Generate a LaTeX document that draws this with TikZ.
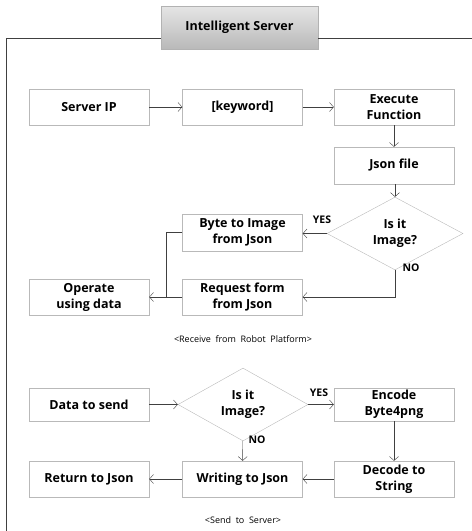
\documentclass[tikz,border=0pt]{standalone}
\usepackage{fontspec}
\setmainfont{Open Sans}
\usepackage{tikz}
\usetikzlibrary{shapes.geometric}
\usetikzlibrary{arrows.meta}
\usepackage{xcolor}

\begin{document}
\begin{tikzpicture}[x=1pt,y=-1pt,
box/.style={draw=gray!55,rectangle,minimum width=120pt,minimum height=36pt,
  inner sep=0pt,align=center,font=\bfseries\fontsize{12.5}{16}\selectfont},
ask/.style={draw=gray!55,diamond,inner sep=0pt,minimum height=51pt,
  align=center,font=\bfseries\fontsize{12.5}{16}\selectfont},
tag/.style={font=\bfseries\fontsize{10.5}{12}\selectfont},
note/.style={font=\fontsize{9}{11}\selectfont},
arr/.style={draw=black!75,-{Straight Barb[length=4pt,width=9pt]}}]
\useasboundingbox (0,0) rectangle (472,531);

% frame and title
\node (ttl) [draw=gray!60,top color=gray!20,bottom color=gray!55,minimum width=157pt,
  minimum height=43pt,inner sep=0pt,font=\bfseries\fontsize{12.5}{15}\selectfont]
  at (239.5,27.5) {Intelligent Server};
\coordinate (fr) at (6,38);
\draw[black!75] (ttl.west |- fr) -- (fr) -- (6,531);
\draw[black!75] (ttl.east |- fr) -- (472,38);

% receive part
\node (ip) [box] at (89,107) {Server IP};
\node (kw) [box] at (242.5,107) {[keyword]};
\node (exec) [box] at (394,107) {Execute\\Function};
\node (json) [box,minimum height=37pt] at (394,165.5) {Json file};
\node (img1) [ask,minimum width=136pt] at (395,233.5) {Is it\\Image?};
\node (byte) [box,minimum height=37pt] at (242.5,232.5) {Byte to Image\\from Json};
\node (req) [box] at (242.5,297) {Request form\\from Json};
\node (oper) [box] at (89,297) {Operate\\using data};
\node (note1) [note] at (243,339) {<Receive\ \ from\ \ Robot\ \ Platform>};

\draw[arr] (ip) -- (kw);
\draw[arr] (kw) -- (exec);
\draw[arr] (exec) -- (json);
\draw[arr] (json.south -| img1) -- (img1);
\draw[arr] (img1.west) -- (byte.east |- img1.west);
\node (yes1) [tag] at (322,220) {YES};
\draw[arr] (img1.south) -- (img1.south |- req) -- (req.east);
\node (no1) [tag] at (411,268) {NO};
\draw[arr] (req) -- (oper);
\draw[black!75] (byte.west) -- (166,232.5) -- (166,297);

% send part
\node (data) [box,minimum height=33pt] at (89,404.5) {Data to send};
\node (img2) [ask,minimum width=130pt] at (243,404.5) {Is it\\Image?};
\node (enc) [box,minimum height=33pt] at (394,404.5) {Encode\\Byte4png};
\node (dec) [box] at (394,479) {Decode to\\String};
\node (wr) [box] at (242.5,479) {Writing to Json};
\node (ret) [box] at (89,479) {Return to Json};
\node (note2) [note] at (243,520) {<Send\ \ to\ \ Server>};

\draw[arr] (data) -- (img2);
\draw[arr] (img2) -- (enc);
\node (yes2) [tag] at (319,393) {YES};
\draw[arr] (img2) -- (wr);
\node (no2) [tag] at (257,440) {NO};
\draw[arr] (enc) -- (dec);
\draw[arr] (dec) -- (wr);
\draw[arr] (wr) -- (ret);
\end{tikzpicture}
\end{document}
